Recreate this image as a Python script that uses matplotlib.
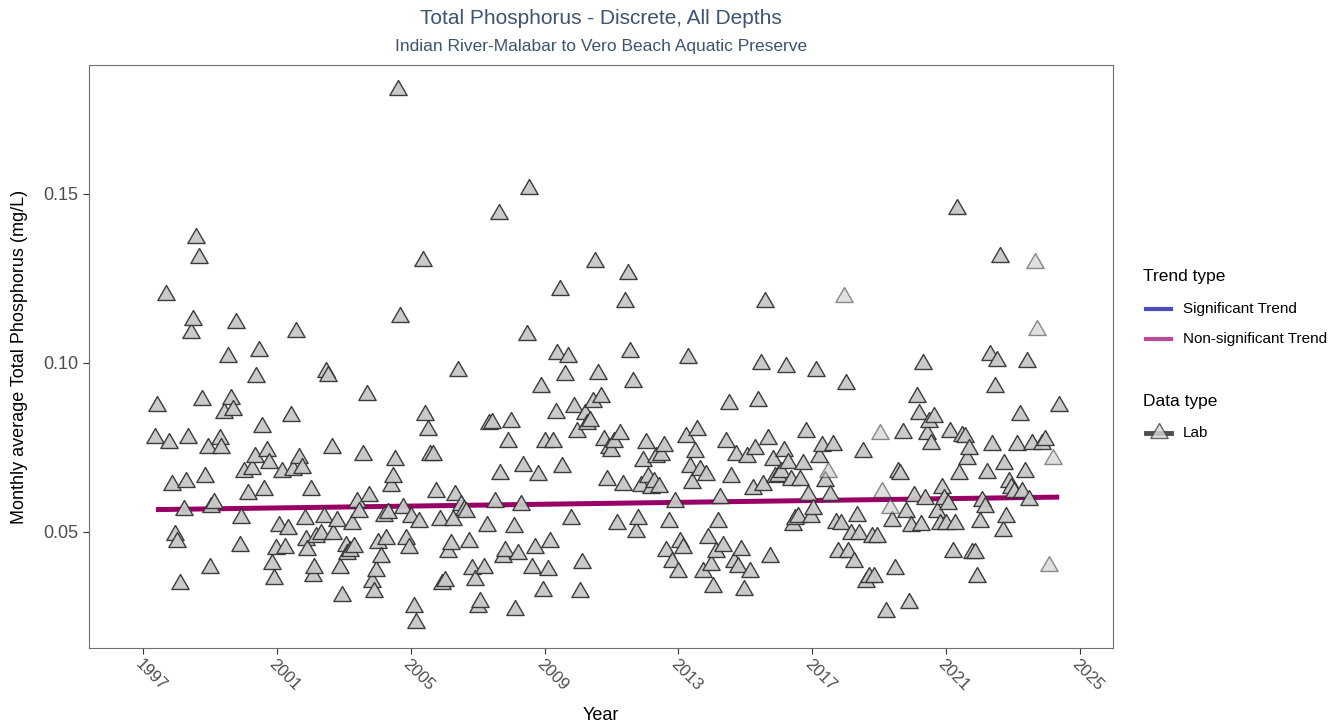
import matplotlib
matplotlib.use("Agg")
import matplotlib.pyplot as plt
from matplotlib.lines import Line2D

plt.rcParams['font.family'] = ['Liberation Sans', 'DejaVu Sans']

# monthly averages (decimal year, mg/L)
lab_years = [
    1997.35, 1997.41, 1997.68, 1997.77, 1997.86, 1997.95,
    1998.01, 1998.10, 1998.22, 1998.28, 1998.34, 1998.43, 1998.49, 1998.58, 1998.67, 1998.75, 1998.84, 1998.93, 1998.99,
    1999.02, 1999.11, 1999.30, 1999.32, 1999.41, 1999.53, 1999.62, 1999.68, 1999.77, 1999.89, 1999.92,
    2000.01, 2000.13, 2000.25, 2000.34, 2000.37, 2000.46, 2000.55, 2000.61, 2000.70, 2000.76, 2000.85, 2000.91, 2000.97,
    2001.06, 2001.15, 2001.24, 2001.33, 2001.42, 2001.48, 2001.57, 2001.66, 2001.74, 2001.83, 2001.86, 2001.89,
    2002.01, 2002.07, 2002.10, 2002.16, 2002.31, 2002.40, 2002.46, 2002.52, 2002.64, 2002.67, 2002.79, 2002.88, 2002.94,
    2003.06, 2003.09, 2003.18, 2003.24, 2003.30, 2003.39, 2003.45, 2003.57, 2003.69, 2003.75, 2003.84, 2003.90, 2003.96,
    2004.02, 2004.11, 2004.20, 2004.26, 2004.32, 2004.41, 2004.47, 2004.53, 2004.62, 2004.68, 2004.76, 2004.85, 2004.94,
    2005.00, 2005.09, 2005.15, 2005.24, 2005.36, 2005.42, 2005.51, 2005.57, 2005.66, 2005.75, 2005.87, 2005.93,
    2006.02, 2006.11, 2006.20, 2006.26, 2006.32, 2006.41, 2006.50, 2006.59, 2006.65, 2006.74, 2006.83, 2006.92,
    2007.01, 2007.07, 2007.18, 2007.27, 2007.33, 2007.42, 2007.51, 2007.63, 2007.66, 2007.75, 2007.81, 2007.90, 2007.99,
    2008.08, 2008.11, 2008.20, 2008.29, 2008.35, 2008.47, 2008.53, 2008.62, 2008.71, 2008.80, 2008.89, 2008.95,
    2009.01, 2009.10, 2009.16, 2009.25, 2009.34, 2009.37, 2009.46, 2009.52, 2009.61, 2009.70, 2009.79, 2009.88, 2009.97,
    2010.06, 2010.12, 2010.21, 2010.27, 2010.36, 2010.45, 2010.51, 2010.60, 2010.69, 2010.78, 2010.87, 2010.93, 2010.99,
    2011.07, 2011.16, 2011.25, 2011.34, 2011.40, 2011.49, 2011.55, 2011.64, 2011.73, 2011.79, 2011.88, 2011.94,
    2012.03, 2012.09, 2012.18, 2012.27, 2012.33, 2012.42, 2012.48, 2012.57, 2012.63, 2012.72, 2012.81, 2012.90, 2012.99,
    2013.05, 2013.14, 2013.23, 2013.28, 2013.34, 2013.40, 2013.49, 2013.55, 2013.64, 2013.73, 2013.82, 2013.88, 2013.97,
    2014.03, 2014.12, 2014.18, 2014.24, 2014.33, 2014.42, 2014.51, 2014.57, 2014.66, 2014.72, 2014.78, 2014.87, 2014.96,
    2015.05, 2015.14, 2015.23, 2015.28, 2015.37, 2015.46, 2015.52, 2015.58, 2015.67, 2015.73, 2015.82, 2015.88, 2015.97,
    2016.06, 2016.15, 2016.21, 2016.27, 2016.36, 2016.42, 2016.48, 2016.57, 2016.63, 2016.72, 2016.81, 2016.87, 2016.96,
    2017.02, 2017.11, 2017.20, 2017.29, 2017.38, 2017.53, 2017.62, 2017.71, 2017.77, 2017.86,
    2018.01, 2018.07, 2018.16, 2018.25, 2018.34, 2018.40, 2018.52, 2018.61, 2018.70, 2018.79, 2018.85, 2018.94,
    2019.21, 2019.39, 2019.47, 2019.56, 2019.62, 2019.71, 2019.80, 2019.89, 2019.95,
    2020.04, 2020.13, 2020.19, 2020.25, 2020.31, 2020.37, 2020.43, 2020.49, 2020.55, 2020.64, 2020.73, 2020.82, 2020.88, 2020.94,
    2021.00, 2021.06, 2021.12, 2021.21, 2021.26, 2021.33, 2021.38, 2021.47, 2021.56, 2021.62, 2021.68, 2021.77, 2021.86, 2021.93,
    2022.01, 2022.07, 2022.16, 2022.23, 2022.31, 2022.37, 2022.46, 2022.52, 2022.61, 2022.70, 2022.73, 2022.79, 2022.88, 2022.94,
    2023.03, 2023.12, 2023.21, 2023.27, 2023.36, 2023.42, 2023.48, 2023.57, 2023.87, 2023.96,
    2024.37,
]
lab_values = [
    0.0778, 0.0873, 0.1201, 0.0763, 0.0639, 0.0491,
    0.0470, 0.0346, 0.0565, 0.0648, 0.0778, 0.1089, 0.1127, 0.1370, 0.1311, 0.0891, 0.0663, 0.0749, 0.0393,
    0.0574, 0.0586, 0.0775, 0.0749, 0.0852, 0.1018, 0.0893, 0.0861, 0.1118, 0.0459, 0.0541,
    0.0678, 0.0612, 0.0686, 0.0722, 0.0959, 0.1036, 0.0811, 0.0624, 0.0740, 0.0704, 0.0405, 0.0361, 0.0450,
    0.0518, 0.0678, 0.0453, 0.0509, 0.0843, 0.0683, 0.1092, 0.0719, 0.0689, 0.0538, 0.0476, 0.0447,
    0.0624, 0.0370, 0.0393, 0.0485, 0.0494, 0.0544, 0.0973, 0.0962, 0.0749, 0.0494, 0.0533, 0.0393, 0.0311,
    0.0459, 0.0435, 0.0444, 0.0524, 0.0456, 0.0589, 0.0559, 0.0728, 0.0905, 0.0607, 0.0352, 0.0322, 0.0385,
    0.0467, 0.0426, 0.0547, 0.0479, 0.0556, 0.0636, 0.0663, 0.0713, 0.1805, 0.1136, 0.0571, 0.0479, 0.0453,
    0.0544, 0.0278, 0.0231, 0.0530, 0.1302, 0.0846, 0.0802, 0.0728, 0.0728, 0.0618, 0.0536, 0.0346,
    0.0355, 0.0441, 0.0464, 0.0536, 0.0609, 0.0976, 0.0580, 0.0565, 0.0559, 0.0470, 0.0391, 0.0358,
    0.0278, 0.0293, 0.0393, 0.0518, 0.0820, 0.0822, 0.0589, 0.1441, 0.0672, 0.0426, 0.0444, 0.0766, 0.0825,
    0.0515, 0.0269, 0.0435, 0.0580, 0.0695, 0.1083, 0.1515, 0.0393, 0.0453, 0.0669, 0.0929, 0.0325,
    0.0766, 0.0388, 0.0470, 0.0766, 0.0852, 0.1027, 0.1216, 0.0692, 0.0964, 0.1018, 0.0538, 0.0870, 0.0796,
    0.0322, 0.0408, 0.0849, 0.0820, 0.0828, 0.0885, 0.1299, 0.0967, 0.0899, 0.0772, 0.0654, 0.0749, 0.0740,
    0.0766, 0.0524, 0.0790, 0.0639, 0.1180, 0.1263, 0.1033, 0.0944, 0.0500, 0.0538, 0.0636, 0.0710,
    0.0763, 0.0663, 0.0630, 0.0648, 0.0722, 0.0633, 0.0728, 0.0754, 0.0444, 0.0530, 0.0411, 0.0589, 0.0382,
    0.0470, 0.0453, 0.0781, 0.1015, 0.0692, 0.0645, 0.0737, 0.0802, 0.0683, 0.0382, 0.0669, 0.0482, 0.0402,
    0.0337, 0.0441, 0.0530, 0.0601, 0.0459, 0.0766, 0.0879, 0.0663, 0.0411, 0.0728, 0.0396, 0.0447, 0.0328,
    0.0722, 0.0382, 0.0627, 0.0746, 0.0888, 0.0997, 0.0639, 0.1180, 0.0775, 0.0426, 0.0713, 0.0663, 0.0666,
    0.0678, 0.0740, 0.0988, 0.0704, 0.0654, 0.0521, 0.0538, 0.0544, 0.0654, 0.0701, 0.0796, 0.0609, 0.0544,
    0.0568, 0.0976, 0.0722, 0.0754, 0.0651, 0.0609, 0.0757, 0.0527, 0.0441, 0.0524,
    0.0938, 0.0441, 0.0494, 0.0411, 0.0547, 0.0494, 0.0737, 0.0352, 0.0367, 0.0485, 0.0367, 0.0485,
    0.0263, 0.0533, 0.0391, 0.0678, 0.0672, 0.0793, 0.0559, 0.0290, 0.0518,
    0.0607, 0.0899, 0.0849, 0.0521, 0.0997, 0.0598, 0.0790, 0.0825, 0.0760, 0.0840, 0.0559, 0.0524, 0.0630, 0.0598,
    0.0524, 0.0583, 0.0796, 0.0441, 0.0524, 0.1453, 0.0672, 0.0784, 0.0781, 0.0716, 0.0746, 0.0438, 0.0438, 0.0367,
    0.0530, 0.0592, 0.0574, 0.0675, 0.1024, 0.0757, 0.0929, 0.1006, 0.1314, 0.0503, 0.0701, 0.0544, 0.0648, 0.0630,
    0.0618, 0.0757, 0.0846, 0.0618, 0.0678, 0.1003, 0.0595, 0.0760, 0.0760, 0.0772,
    0.0873,
]
# months drawn with lighter symbols
faded_years = [2017.47, 2017.95, 2019.03, 2019.09, 2019.32, 2023.66, 2023.72, 2024.08, 2024.20]
faded_values = [0.0678, 0.1195, 0.0790, 0.0618, 0.0571, 0.1296, 0.1098, 0.0399, 0.0716]

# fitted trend (non-significant)
trend_years = [1997.38, 2024.38]
trend_values = [0.0566, 0.0603]

x_ticks = [1997, 2001, 2005, 2009, 2013, 2017, 2021, 2025]
y_ticks = [0.05, 0.10, 0.15]

W, H = 1343, 728
fig = plt.figure(figsize=(W / 100, H / 100), dpi=100)
ax = fig.add_axes([89 / W, 1 - 648 / H, (1113 - 89) / W, (648 - 65) / H])

# closed, centroid-centred triangle like R's pch 24
tri = [(0, 1), (-0.866, -0.5), (0.866, -0.5), (0, 1)]
ax.plot(trend_years, trend_values, color='#990066', lw=3.6, solid_capstyle='butt', zorder=2)
ax.scatter(lab_years, lab_values, marker=tri, s=207, facecolor='#c8c8c8',
           edgecolor='#333333', linewidths=1.0, alpha=0.95, zorder=3)
ax.scatter(faded_years, faded_values, marker=tri, s=207, facecolor='#c8c8c8',
           edgecolor='#333333', linewidths=1.0, alpha=0.55, zorder=3)

ax.set_xlim(1995.38, 2025.99)
ax.set_ylim(0.0157, 0.188)
ax.set_xticks(x_ticks)
ax.set_xticklabels([str(t) for t in x_ticks], rotation=-45, ha='left', va='top',
                   rotation_mode='anchor')
ax.set_yticks(y_ticks)
ax.set_yticklabels(['0.05', '0.10', '0.15'])
ax.tick_params(axis='both', colors='#333333', labelcolor='#4d4d4d', length=4, width=0.8)
ax.tick_params(axis='y', labelsize=13)
ax.tick_params(axis='x', labelsize=12, pad=2)
for sp in ax.spines.values():
    sp.set_color('#707070')
    sp.set_linewidth(0.8)

ax.set_xlabel('Year', fontsize=13, labelpad=10)
ax.set_ylabel('Monthly average Total Phosphorus (mg/L)', fontsize=13, labelpad=11)

cx = (89 + 1113) / 2 / W
fig.text(cx, 1 - 19 / H, 'Total Phosphorus - Discrete, All Depths', ha='center', va='center',
         fontsize=15, color='#3b5470')
fig.text(cx, 1 - 47 / H, 'Indian River-Malabar to Vero Beach Aquatic Preserve', ha='center',
         va='center', fontsize=12.5, color='#3b5470')

# legend, drawn by hand at the right of the panel
def fx(px):
    return px / W

def fy(py):
    return 1 - py / H

fig.text(fx(1143), fy(277), 'Trend type', fontsize=12.5, va='center', ha='left')
for py, col, lab in [(309, '#4d4db7', 'Significant Trend'),
                     (339, '#b74d94', 'Non-significant Trend')]:
    fig.add_artist(Line2D([fx(1146), fx(1171)], [fy(py), fy(py)], color=col, lw=3,
                          transform=fig.transFigure))
    fig.text(fx(1183), fy(py), lab, fontsize=11, va='center', ha='left')

fig.text(fx(1143), fy(401), 'Data type', fontsize=12.5, va='center', ha='left')
fig.add_artist(Line2D([fx(1146), fx(1171)], [fy(433), fy(433)], color='#4d4d4d', lw=3.5,
                      transform=fig.transFigure))
fig.add_artist(Line2D([fx(1158.5)], [fy(433)], marker=tri, markersize=14.4, color='none',
                      markerfacecolor='#d9d9d9', markeredgecolor='#444444', alpha=0.8,
                      transform=fig.transFigure))
fig.text(fx(1183), fy(433), 'Lab', fontsize=11, va='center', ha='left')

fig.savefig('out.png', dpi=100)
